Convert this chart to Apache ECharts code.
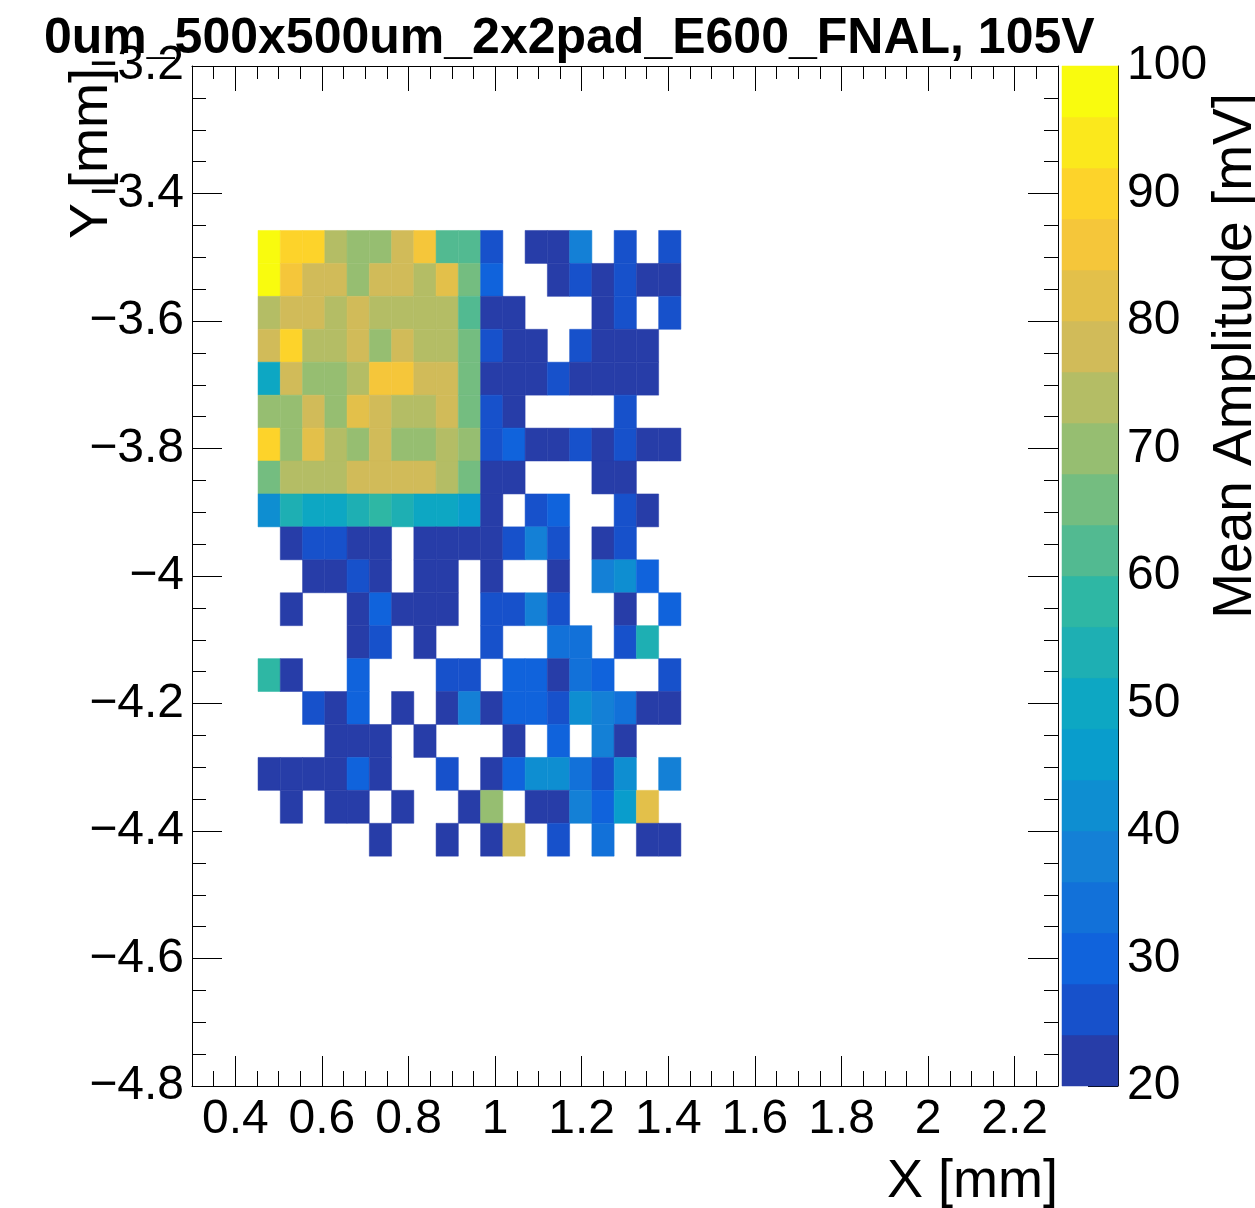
<!DOCTYPE html>
<html><head><meta charset="utf-8">
<script src="https://cdn.jsdelivr.net/npm/echarts@6/dist/echarts.min.js"></script>
<style>html,body{margin:0;padding:0;background:#fff}#c{width:1255px;height:1208px}</style>
</head><body><div id="c"></div>
<script>
const titleText = '0um_500x500um_2x2pad_E600_FNAL, 105V';
const xTitle = 'X [mm]';
const yTitle = 'Y [mm]';
const zTitle = 'Mean Amplitude [mV]';
const xTickValues = [0.4, 0.6, 0.8, 1.0, 1.2, 1.4, 1.6, 1.8, 2.0, 2.2];
const yTickValues = [-4.8, -4.6, -4.4, -4.2, -4.0, -3.8, -3.6, -3.4, -3.2];
const zTickValues = [20, 30, 40, 50, 60, 70, 80, 90, 100];
const zLevels = [20, 24, 28, 32, 36, 40, 44, 48, 52, 56, 60, 64, 68, 72, 76, 80, 84, 88, 92, 96, 100];
const xBinEdges = [0.4525, 0.5039, 0.5553, 0.6067, 0.6581, 0.7095, 0.7609, 0.8123, 0.8637, 0.9151,
  0.9665, 1.0179, 1.0693, 1.1207, 1.1721, 1.2235, 1.2749, 1.3263, 1.3777, 1.4291];
const yBinEdges = [-3.4580, -3.5097, -3.5613, -3.6130, -3.6646, -3.7163, -3.7680, -3.8196, -3.8713, -3.9229,
  -3.9746, -4.0263, -4.0779, -4.1296, -4.1812, -4.2329, -4.2846, -4.3362, -4.3879, -4.4395];
// rows from top (y high) to bottom; columns left to right
const amp = [
  [98, 90, 90, 74, 70, 70, 78, 86, 62, 62, 26, null, 22, 22, 38, null, 26, null, 26],
  [98, 86, 78, 78, 70, 78, 78, 74, 82, 66, 30, null, null, 22, 26, 22, 26, 22, 22],
  [74, 78, 78, 74, 78, 74, 74, 74, 74, 62, 22, 22, null, null, null, 22, 26, null, 26],
  [78, 90, 74, 74, 78, 70, 78, 74, 74, 66, 26, 22, 22, null, 26, 22, 22, 22, null],
  [50, 78, 70, 70, 74, 86, 86, 78, 78, 66, 22, 22, 22, 26, 22, 22, 22, 22, null],
  [70, 70, 78, 70, 82, 78, 74, 74, 78, 66, 26, 22, null, null, null, null, 26, null, null],
  [90, 70, 82, 74, 70, 78, 70, 70, 74, 70, 26, 30, 22, 22, 26, 22, 26, 22, 22],
  [66, 74, 74, 74, 78, 78, 78, 78, 74, 66, 22, 22, null, null, null, 22, 22, null, null],
  [42, 54, 50, 50, 54, 58, 54, 50, 50, 46, 22, null, 26, 30, null, null, 26, 22, null],
  [null, 22, 26, 26, 22, 22, null, 22, 22, 22, 22, 26, 38, 26, null, 22, 26, null, null],
  [null, null, 22, 22, 26, 22, null, 22, 22, null, 22, null, null, 22, null, 38, 42, 30, null],
  [null, 22, null, null, 22, 30, 22, 22, 22, null, 26, 26, 38, 26, null, null, 22, null, 30],
  [null, null, null, null, 22, 26, null, 22, null, null, 26, null, null, 34, 34, null, 26, 54, null],
  [58, 22, null, null, 30, null, null, null, 26, 26, null, 30, 30, 22, 34, 30, null, null, 26],
  [null, null, 26, 22, 30, null, 22, null, 22, 38, 22, 30, 30, 26, 42, 38, 34, 22, 22],
  [null, null, null, 22, 22, 22, null, 22, null, null, null, 22, null, 30, null, 38, 22, null, null],
  [22, 22, 22, 22, 30, 22, null, null, 26, null, 22, 30, 42, 42, 34, 26, 42, null, 38],
  [null, 22, null, 22, 22, null, 22, null, null, 22, 70, null, 22, 22, 38, 30, 46, 82, null],
  [null, null, null, null, null, 22, null, null, 22, null, 22, 78, null, 26, null, 34, null, 22, 22]
];

// ---- ROOT kBird palette ----
const birdStops = [0, 0.125, 0.25, 0.375, 0.5, 0.625, 0.75, 0.875, 1];
const birdR = [0.2082, 0.0592, 0.0780, 0.0232, 0.1802, 0.5301, 0.8186, 0.9956, 0.9764];
const birdG = [0.1664, 0.3599, 0.5041, 0.6419, 0.7178, 0.7492, 0.7328, 0.7862, 0.9832];
const birdB = [0.5293, 0.8684, 0.8385, 0.7914, 0.6425, 0.4662, 0.3499, 0.1968, 0.0539];
function bird(f) {
  let k = 0;
  while (k < 7 && f > birdStops[k + 1]) k++;
  const t = (f - birdStops[k]) / (birdStops[k + 1] - birdStops[k]);
  const c = a => Math.round(255 * (a[k] + (a[k + 1] - a[k]) * t));
  return 'rgb(' + c(birdR) + ',' + c(birdG) + ',' + c(birdB) + ')';
}
const nBands = zLevels.length - 1;
const bandColors = [];
for (let i = 0; i < nBands; i++) bandColors.push(bird(Math.floor((i + 0.99) * 255 / nBands) / 254));
function bandOf(v) {
  for (let i = 0; i < nBands; i++) if (v < zLevels[i + 1]) return i;
  return nBands - 1;
}

const heatData = [];
amp.forEach((row, r) => row.forEach((v, c) => {
  if (v != null) heatData.push([xBinEdges[c], xBinEdges[c + 1], yBinEdges[r], yBinEdges[r + 1], v]);
}));
const barData = [];
for (let i = 0; i < nBands; i++) barData.push([0, 1, zLevels[i], zLevels[i + 1], i]);

const xMinor = [], yMinor = [];
for (let k = 7; k <= 45; k++) if (k % 4 !== 0) xMinor.push(k * 0.05);
for (let k = -95; k <= -65; k++) if (k % 4 !== 0) yMinor.push(k * 0.05);

const FONT = 'Liberation Sans';
const BLACK = '#000';
function fmt(v) { return String(Math.round(v * 10) / 10).replace('-', '\u2212'); }
const lbl = (vals, margin, pad) => ({ show: true, customValues: vals, formatter: fmt, fontFamily: FONT, fontSize: 48, color: BLACK, margin: margin, padding: pad || 0, showMinLabel: true, showMaxLabel: true });
function ax(extra) {
  return Object.assign({ type: 'value', splitLine: { show: false }, axisLine: { show: false },
    axisTick: { show: false }, axisLabel: { show: false } }, extra);
}
const tick = (vals, len) => ({ show: true, inside: true, length: len, customValues: vals, lineStyle: { color: BLACK, width: 1 } });
const line = { show: true, onZero: false, lineStyle: { color: BLACK, width: 1 } };

const chart = echarts.init(document.getElementById('c'), null, { renderer: 'canvas' });
chart.setOption({
  animation: false,
  backgroundColor: '#fff',
  grid: [
    { left: 192, top: 66, width: 866, height: 1020 },
    { left: 1062, top: 66, width: 56, height: 1020 }
  ],
  xAxis: [
    ax({ gridIndex: 0, position: 'bottom', min: 0.3, max: 2.3, axisLine: line, axisTick: tick(xTickValues, 30), axisLabel: lbl(xTickValues, 10) }),
    ax({ gridIndex: 0, position: 'bottom', min: 0.3, max: 2.3, axisTick: tick(xMinor, 15) }),
    ax({ gridIndex: 0, position: 'top', min: 0.3, max: 2.3, axisLine: line, axisTick: tick(xTickValues, 25) }),
    ax({ gridIndex: 0, position: 'top', min: 0.3, max: 2.3, axisTick: tick(xMinor, 13) }),
    ax({ gridIndex: 1, position: 'bottom', min: 0, max: 1 })
  ],
  yAxis: [
    ax({ gridIndex: 0, position: 'left', min: -4.8, max: -3.2, axisLine: line, axisTick: tick(yTickValues, 30), axisLabel: lbl(yTickValues, 8, [4, 0, 0, 0]) }),
    ax({ gridIndex: 0, position: 'left', min: -4.8, max: -3.2, axisTick: tick(yMinor, 14) }),
    ax({ gridIndex: 0, position: 'right', min: -4.8, max: -3.2, axisLine: line, axisTick: tick(yTickValues, 30) }),
    ax({ gridIndex: 0, position: 'right', min: -4.8, max: -3.2, axisTick: tick(yMinor, 14) }),
    ax({ gridIndex: 1, position: 'right', min: 20, max: 100, axisLine: line, axisTick: tick(zTickValues, 30), axisLabel: lbl(zTickValues, 9, [6, 0, 0, 0]) })
  ],
  series: [
    {
      type: 'custom', xAxisIndex: 0, yAxisIndex: 0, silent: true, clip: true,
      encode: { x: [0, 1], y: [2, 3] },
      data: heatData,
      renderItem: (params, api) => {
        const p0 = api.coord([api.value(0), api.value(2)]);
        const p1 = api.coord([api.value(1), api.value(3)]);
        const col = bandColors[bandOf(api.value(4))];
        return { type: 'rect', shape: { x: Math.min(p0[0], p1[0]), y: Math.min(p0[1], p1[1]), width: Math.abs(p1[0] - p0[0]), height: Math.abs(p1[1] - p0[1]) },
          style: { fill: col, stroke: col, lineWidth: 0.5 } };
      }
    },
    {
      type: 'custom', xAxisIndex: 4, yAxisIndex: 4, silent: true,
      encode: { x: [0, 1], y: [2, 3] },
      data: barData,
      renderItem: (params, api) => {
        const p0 = api.coord([api.value(0), api.value(2)]);
        const p1 = api.coord([api.value(1), api.value(3)]);
        const col = bandColors[api.value(4)];
        return { type: 'rect', shape: { x: Math.min(p0[0], p1[0]), y: Math.min(p0[1], p1[1]), width: Math.abs(p1[0] - p0[0]), height: Math.abs(p1[1] - p0[1]) },
          style: { fill: col, stroke: col, lineWidth: 0.5 } };
      }
    }
  ],
  graphic: [
    { type: 'text', x: 44, y: 39, z: 100, style: { text: titleText, font: 'bold 50px "Liberation Sans"', fill: BLACK, textAlign: 'left', textVerticalAlign: 'middle' } },
    { type: 'text', x: 1058, y: 1182, z: 100, style: { text: xTitle, font: '54px "Liberation Sans"', fill: BLACK, textAlign: 'right', textVerticalAlign: 'middle' } },
    { type: 'text', x: 92, y: 68, rotation: Math.PI / 2, z: 100, style: { text: yTitle, font: '54px "Liberation Sans"', fill: BLACK, textAlign: 'right', textVerticalAlign: 'middle' } },
    { type: 'text', x: 1236, y: 93, rotation: Math.PI / 2, z: 100, style: { text: zTitle, font: '55px "Liberation Sans"', fill: BLACK, textAlign: 'right', textVerticalAlign: 'middle' } }
  ]
});
</script>
</body></html>
